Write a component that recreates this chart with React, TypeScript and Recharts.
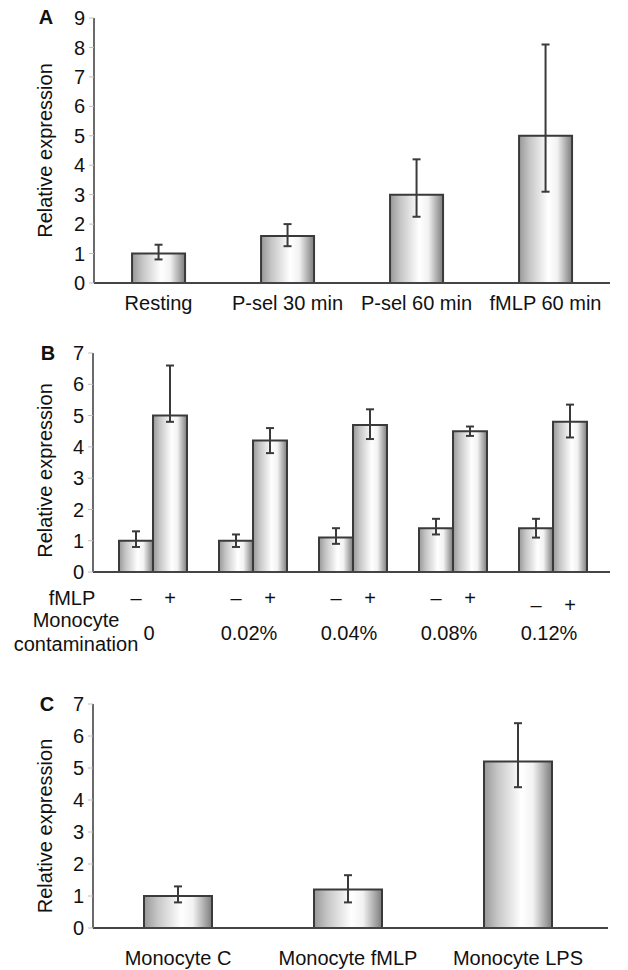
import { BarChart, Bar, XAxis, YAxis, ErrorBar, Label } from "recharts";

const FONT = '"Liberation Sans", Arial, Helvetica, sans-serif';
const INK = "#111";
const BAR_EDGE = "#3a3a3a";

// ── Panel A: stimulation ──
const A_CATS = ["Resting", "P-sel 30 min", "P-sel 60 min", "fMLP 60 min"];
const A_MEAN = [1.0, 1.6, 3.0, 5.0];
const A_LOW = [0.8, 1.25, 2.25, 3.1];
const A_HIGH = [1.3, 2.0, 4.2, 8.1];
const A_TICKS = [0, 1, 2, 3, 4, 5, 6, 7, 8, 9];

// ── Panel B: fMLP −/+ by monocyte contamination ──
const B_CONTAM = ["0", "0.02%", "0.04%", "0.08%", "0.12%"];
const B_CTRL = [1.0, 1.0, 1.1, 1.4, 1.4];
const B_CTRL_LOW = [0.8, 0.8, 0.9, 1.2, 1.1];
const B_CTRL_HIGH = [1.3, 1.2, 1.4, 1.7, 1.7];
const B_FMLP = [5.0, 4.2, 4.7, 4.5, 4.8];
const B_FMLP_LOW = [4.8, 3.8, 4.25, 4.35, 4.3];
const B_FMLP_HIGH = [6.6, 4.6, 5.2, 4.65, 5.35];
const B_SIGNS = ["–", "+"];

// ── Panel C: monocytes ──
const C_CATS = ["Monocyte C", "Monocyte fMLP", "Monocyte LPS"];
const C_MEAN = [1.0, 1.2, 5.2];
const C_LOW = [0.8, 0.8, 4.4];
const C_HIGH = [1.3, 1.65, 6.4];
const BC_TICKS = [0, 1, 2, 3, 4, 5, 6, 7];

const errOf = (m: number, lo: number, hi: number) => [+(m - lo).toFixed(3), +(hi - m).toFixed(3)];

const dataA = A_CATS.map((name, i) => ({ name, v: A_MEAN[i], err: errOf(A_MEAN[i], A_LOW[i], A_HIGH[i]) }));
const dataB = B_CONTAM.map((name, i) => ({
  name,
  ctrl: B_CTRL[i], ctrlErr: errOf(B_CTRL[i], B_CTRL_LOW[i], B_CTRL_HIGH[i]),
  fmlp: B_FMLP[i], fmlpErr: errOf(B_FMLP[i], B_FMLP_LOW[i], B_FMLP_HIGH[i]),
}));
const dataC = C_CATS.map((name, i) => ({ name, v: C_MEAN[i], err: errOf(C_MEAN[i], C_LOW[i], C_HIGH[i]) }));

const tick = { fontSize: 20, fill: INK } as const;
const yAxisProps = {
  tick, tickSize: 5, tickMargin: 4, interval: 0 as const,
  axisLine: { stroke: "#6a6a6a", strokeWidth: 2 },
  tickLine: { stroke: "#bdbdbd", strokeWidth: 1 },
};
const xLine = { stroke: "#444", strokeWidth: 2 };

function Cyl({ id }: { id: string }) {
  return (
    <defs>
      <linearGradient id={id} x1="0" y1="0" x2="1" y2="0">
        <stop offset="0%" stopColor="#989898" />
        <stop offset="20%" stopColor="#c6c6c6" />
        <stop offset="55%" stopColor="#ffffff" />
        <stop offset="72%" stopColor="#f2f2f2" />
        <stop offset="100%" stopColor="#7c7c7c" />
      </linearGradient>
    </defs>
  );
}

function YTitle({ dy = 0 }: { dy?: number }) {
  return (
    <Label value="Relative expression" angle={-90} position="insideLeft" offset={45} dy={dy}
      fontSize={20} fill={INK} style={{ textAnchor: "middle" }} />
  );
}

function BTick(props: any) {
  const { x, y, payload, index } = props;
  const drop = index === B_CONTAM.length - 1 ? 7 : 0;
  return (
    <g fontSize={20} fill={INK}>
      {B_SIGNS.map((s, k) => (
        <text key={s} x={x + (k === 0 ? -17 : 17)} y={y + 26 + drop} textAnchor="middle" dominantBaseline="central">{s}</text>
      ))}
      <text x={x - 4} y={y + 61} textAnchor="middle" dominantBaseline="central">{payload.value}</text>
    </g>
  );
}

const abs = (top: number, left: number, extra: any = {}) => ({ position: "absolute" as const, top, left, ...extra });
const txt = { fontSize: 20, lineHeight: "20px", color: INK, whiteSpace: "nowrap" as const };

export default function App() {
  return (
    <div style={{ position: "absolute", top: 0, left: 0, width: 628, height: 970, background: "#fff", fontFamily: FONT }}>
      <div style={abs(0, 0)}>
        <BarChart width={628} height={330} data={dataA} margin={{ top: 18, right: 18, bottom: 0, left: 0 }} barCategoryGap="29.5%">
          <Cyl id="cylA" />
          <XAxis dataKey="name" interval={0} height={47} tick={tick} tickSize={0} tickMargin={13} tickLine={false} axisLine={xLine} />
          <YAxis width={94} domain={[0, 9]} ticks={A_TICKS} {...yAxisProps}>
            <YTitle />
          </YAxis>
          <Bar dataKey="v" fill="url(#cylA)" stroke={BAR_EDGE} strokeWidth={2} isAnimationActive={false}>
            <ErrorBar dataKey="err" direction="y" width={4} strokeWidth={2} stroke={BAR_EDGE} isAnimationActive={false} />
          </Bar>
        </BarChart>
      </div>

      <div style={abs(320, 0)}>
        <BarChart width={628} height={340} data={dataB} margin={{ top: 33, right: 18, bottom: 0, left: 0 }} barCategoryGap="16%" barGap={0}>
          <Cyl id="cylB" />
          <XAxis dataKey="name" interval={0} height={88} padding={{ left: 10, right: 7 }} tick={(p: any) => <BTick {...p} />}
            tickSize={0} tickMargin={0} tickLine={false} axisLine={xLine} />
          <YAxis width={93} domain={[0, 7]} ticks={BC_TICKS} {...yAxisProps}>
            <YTitle dy={8} />
          </YAxis>
          <Bar dataKey="ctrl" fill="url(#cylB)" stroke={BAR_EDGE} strokeWidth={2} isAnimationActive={false}>
            <ErrorBar dataKey="ctrlErr" direction="y" width={4} strokeWidth={2} stroke={BAR_EDGE} isAnimationActive={false} />
          </Bar>
          <Bar dataKey="fmlp" fill="url(#cylB)" stroke={BAR_EDGE} strokeWidth={2} isAnimationActive={false}>
            <ErrorBar dataKey="fmlpErr" direction="y" width={4} strokeWidth={2} stroke={BAR_EDGE} isAnimationActive={false} />
          </Bar>
        </BarChart>
      </div>

      <div style={abs(680, 0)}>
        <BarChart width={628} height={290} data={dataC} margin={{ top: 24, right: 20, bottom: 0, left: 0 }} barCategoryGap="30%">
          <Cyl id="cylC" />
          <XAxis dataKey="name" interval={0} height={42} padding={{ left: 0, right: 5 }} tick={tick} tickSize={0} tickMargin={23}
            tickLine={false} axisLine={xLine} />
          <YAxis width={93} domain={[0, 7]} ticks={BC_TICKS} {...yAxisProps}>
            <YTitle dy={10} />
          </YAxis>
          <Bar dataKey="v" fill="url(#cylC)" stroke={BAR_EDGE} strokeWidth={2} isAnimationActive={false}>
            <ErrorBar dataKey="err" direction="y" width={4} strokeWidth={2} stroke={BAR_EDGE} isAnimationActive={false} />
          </Bar>
        </BarChart>
      </div>

      {/* panel letters and row captions */}
      <div style={abs(7, 36, { ...txt, fontWeight: 700, width: 20, textAlign: "center" })}>A</div>
      <div style={abs(343, 38, { ...txt, fontWeight: 700, width: 20, textAlign: "center" })}>B</div>
      <div style={abs(694, 37, { ...txt, fontWeight: 700, width: 20, textAlign: "center" })}>C</div>
      <div style={abs(588, 32, { ...txt, width: 80, textAlign: "center" })}>fMLP</div>
      <div style={abs(610, 6, { ...txt, width: 140, textAlign: "center" })}>Monocyte</div>
      <div style={abs(634, 6, { ...txt, width: 140, textAlign: "center" })}>contamination</div>
    </div>
  );
}
